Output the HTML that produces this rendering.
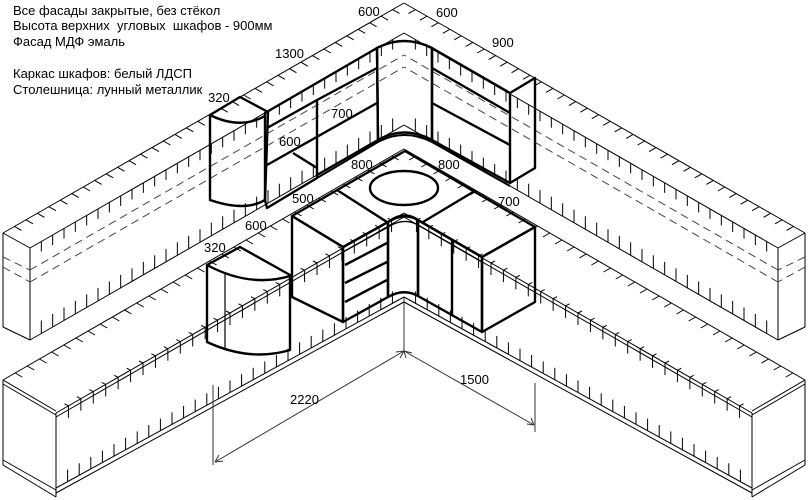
<!DOCTYPE html>
<html><head><meta charset="utf-8"><style>
html,body{margin:0;padding:0;background:#fff;}
svg{display:block;}
text{font-family:"Liberation Sans",sans-serif;font-size:13px;fill:#000;white-space:pre;}
</style></head><body>
<svg id="s" width="809" height="500" viewBox="0 0 809 500" xmlns="http://www.w3.org/2000/svg">
<rect width="809" height="500" fill="#fff"/>
<g id="walls" stroke="#000" stroke-width="1" fill="none"></g>
<g id="ticks" stroke="#000" stroke-width="1" fill="none"></g>
<g id="cabs" stroke="#000" stroke-width="2.4" fill="none" stroke-linejoin="round">
 <!-- upper left rounded cabinet -->
 <path d="M210,115 L240,97 L268,112 L265,200 Q245,212 210,200 Z"/>
 <path d="M210,115 Q240,130 265,116"/>
 <!-- upper 1300 section -->
 <path d="M265,113 L377,48 L378,140 L317,175 L317,178 L267,208 L265,200 Z"/>
 <path d="M267,128 L317,100 L377,68 M267,165 L377,103 M317,100 L317,176 M293,153 L317,168"/>
 <!-- corner upper -->
 <path d="M377,48 Q404,34 432,48 L432,140 Q404,125 378,140 Z"/>
 <!-- upper right -->
 <path d="M432,48 L510,93 L510,183 L432,140 Z"/>
 <path d="M510,93 L535,78 L535,168 L510,183"/>
 <path d="M432,68 L510,113 M432,103 L510,145"/>
 <path d="M317,178 L378,142 Q404,128 432,142 L510,186" stroke-width="2"/>
 <!-- lower left rounded -->
 <path d="M207,265 L240,247 L290,275 L290,350 Q250,362 207,342 Z"/>
 <path d="M207,265 Q250,288 290,276"/>
 <path d="M225,272 L225,350" stroke-width="1.2"/>
 <!-- countertop -->
 <path d="M292,216 L405,151 L535,227 L482,257 L418,220 Q404,210 388,222 L343,247 Z"/>
 <path d="M337,190 L387,222 M473,192 L423,222"/>
 <ellipse cx="404" cy="188" rx="34" ry="17"/>
 <!-- base left -->
 <path d="M292,216 L343,247 L343,322 L292,297 Z"/>
 <path d="M343,247 L388,222 L388,297 L343,322 Z"/>
 <path d="M345,265 L387,243 M345,283 L387,262 M345,302 L387,280"/>
 <path d="M388,222 Q404,212 418,220 L418,296 Q404,288 388,297 Z"/>
 <path d="M418,220 L482,257 L482,332 L418,296 Z"/>
 <path d="M452,240 L452,316"/>
 <path d="M482,257 L535,227 L535,302 L482,332 Z"/>
 <path d="M343,252 L388,227 Q404,217 418,225 L482,262" stroke-width="1.4"/>
</g>
<g stroke="#333" stroke-width="1" fill="none">
 <path d="M404,297 L404,352"/>
 <path d="M213,385 L213,465 M535,383 L535,432"/>
 <path d="M404,351 L215,462 M404,351 L534,425"/>
 <path d="M215,462 l4,-7 M215,462 l8,-1 M404,351 l-8,1 M404,351 l-4,7 M404,351 l8,2 M404,351 l2,7 M534,425 l-7,-1 M534,425 l-3,-7"/>
</g>
<text x="290" y="404">2220</text>
<text x="460" y="384">1500</text>
<g>
<text x="13" y="15">Все фасады закрытые, без стёкол</text>
<text x="13" y="30">Высота верхних  угловых  шкафов - 900мм</text>
<text x="13" y="46">Фасад МДФ эмаль</text>
<text x="13" y="78">Каркас шкафов: белый ЛДСП</text>
<text x="13" y="94">Столешница: лунный металлик</text>
<text x="358" y="16">600</text>
<text x="436" y="17">600</text>
<text x="492" y="47">900</text>
<text x="275" y="58">1300</text>
<text x="208" y="102">320</text>
<text x="331" y="118">700</text>
<text x="279" y="146">600</text>
<text x="351" y="169">800</text>
<text x="438" y="169">800</text>
<text x="292" y="203">500</text>
<text x="498" y="206">700</text>
<text x="245" y="230">600</text>
<text x="204" y="252">320</text>
</g>
</svg>
<script>
(function(){
var NS="http://www.w3.org/2000/svg";
var W=document.getElementById('walls'),T=document.getElementById('ticks');
function ln(g,x1,y1,x2,y2,dash){var l=document.createElementNS(NS,'line');l.setAttribute('x1',x1);l.setAttribute('y1',y1);l.setAttribute('x2',x2);l.setAttribute('y2',y2);if(dash){l.setAttribute('stroke-dasharray','8,5');l.setAttribute('stroke','#444');}g.appendChild(l);}
function both(g,x1,y1,x2,y2,dash){ln(g,x1,y1,x2,y2,dash);ln(g,808-x1,y1,808-x2,y2,dash);}
function ticks(x1,y1,x2,y2,step,dx,dy){var L=Math.hypot(x2-x1,y2-y1),n=Math.floor(L/step);for(var i=1;i<n;i++){var t=i/n,x=x1+(x2-x1)*t,y=y1+(y2-y1)*t;ln(T,x,y,x+dx,y+dy);ln(T,808-x,y,808-x-dx,y+dy);}}
both(W,3,233,404,3);both(W,3,233,30,248);both(W,30,248,30,340);both(W,3,233,3,327);both(W,3,327,30,340);
both(W,30,248,404,33);both(W,30,340,404,125);
both(W,3,257,30,270,1);both(W,3,267,30,282,1);both(W,30,270,404,55,1);both(W,30,282,404,67,1);
both(W,3,380,404,149);both(W,3,384,56,415);both(W,3,380,56,411);
both(W,56,413,404,213);both(W,56,417,404,217);
both(W,3,380,3,465);both(W,56,413,56,497);both(W,3,460,56,490);both(W,3,465,56,497);
both(W,56,488,404,297);both(W,56,493,404,302);
ticks(3,233,404,3,13,7,4);
ticks(30,248,404,33,13,0,10);
ticks(30,340,404,125,13,0,-13);
ticks(3,380,404,149,14,7,4);
ticks(56,413,404,213,14,0,12);
ticks(56,413,404,213,14,-4,-2);
ticks(56,488,404,297,13,0,-12);
})();
</script>
</body></html>
